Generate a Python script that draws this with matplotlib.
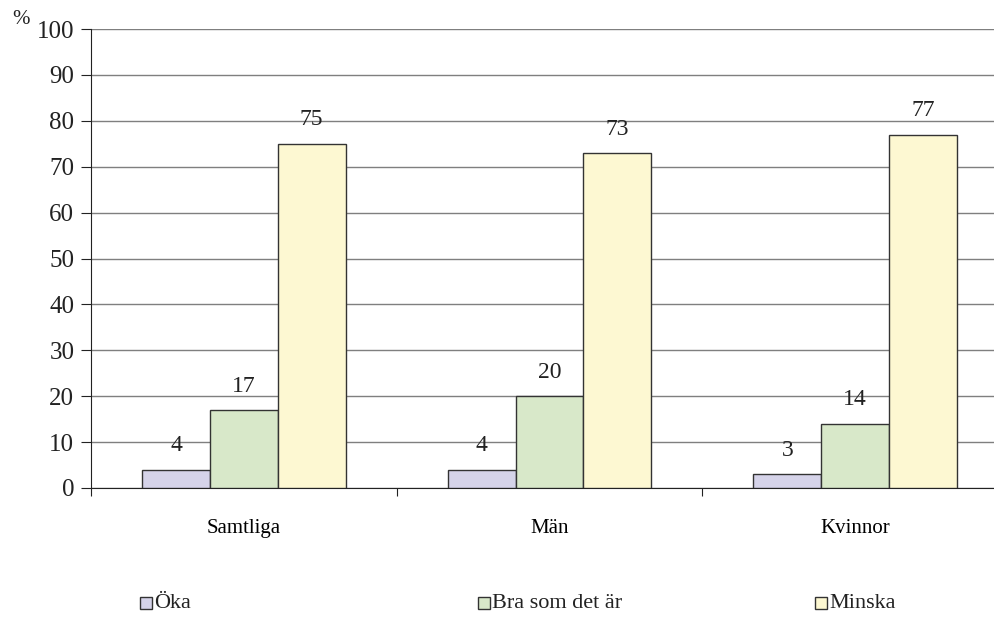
import matplotlib.pyplot as plt
import numpy as np
from matplotlib.patches import Rectangle

# Data
categories = ['Samtliga', 'Män', 'Kvinnor']
series = ['Öka', 'Bra som det är', 'Minska']
values = [
    [4, 4, 3],
    [17, 20, 14],
    [75, 73, 77],
]
colors = ['#D5D3E9', '#D8E8C9', '#FDF8D2']
y_ticks = [0, 10, 20, 30, 40, 50, 60, 70, 80, 90, 100]

plt.rcParams['font.family'] = ['Liberation Serif', 'DejaVu Serif']

W, H = 995, 630
fig = plt.figure(figsize=(W / 100, H / 100), dpi=100)
# axes in pixel coordinates: left 91, right 1008 (chart cropped on the right), top 29, bottom 488
ax = fig.add_axes([91 / W, (H - 488) / H, (1008 - 91) / W, (488 - 29) / H])

x = np.arange(len(categories))
bw = 0.222
for i, (name, vals, c) in enumerate(zip(series, values, colors)):
    xs = x + (i - 1) * bw
    ax.bar(xs, vals, width=bw, color=c, edgecolor='#333333', linewidth=1.0, zorder=3)
    for xi, v in zip(xs, vals):
        ax.text(xi, v + 2.9, str(v), ha='center', va='bottom', fontsize=17, color='#222222')

ax.set_xlim(-0.5, len(categories) - 0.5)
ax.set_ylim(0, 100)
ax.set_yticks(y_ticks)
ax.tick_params(axis='y', labelsize=18, length=7, direction='out', pad=5, colors='#222222')
ax.yaxis.grid(True, color='#7f7f7f', linewidth=1.0, zorder=0)
ax.set_axisbelow(True)

# category boundary ticks and centered labels
ax.set_xticks(np.arange(len(categories) + 1) - 0.5)
ax.set_xticklabels([])
ax.set_xticks(x, minor=True)
ax.set_xticklabels(categories, minor=True, fontsize=15)
ax.tick_params(axis='x', which='major', length=6, direction='out', color='#222222')
ax.tick_params(axis='x', which='minor', length=0, pad=22)

for s in ['top', 'right']:
    ax.spines[s].set_visible(False)
ax.spines['left'].set_color('#222222')
ax.spines['bottom'].set_color('#222222')

fig.text(12 / W, 1 - 19 / H, '%', fontsize=15, va='center', ha='left', color='#222222')

# legend drawn manually across the bottom
leg_x = [140, 478, 815]
leg_y = 603
for lx, name, c in zip(leg_x, series, colors):
    fig.add_artist(Rectangle((lx / W, 1 - (leg_y + 6) / H), 12 / W, 12 / H,
                             transform=fig.transFigure, facecolor=c,
                             edgecolor='#333333', linewidth=1.0))
    fig.text((lx + 14) / W, 1 - leg_y / H, name, fontsize=16, va='center', ha='left', color='#222222')

fig.savefig('out.png', dpi=100)
